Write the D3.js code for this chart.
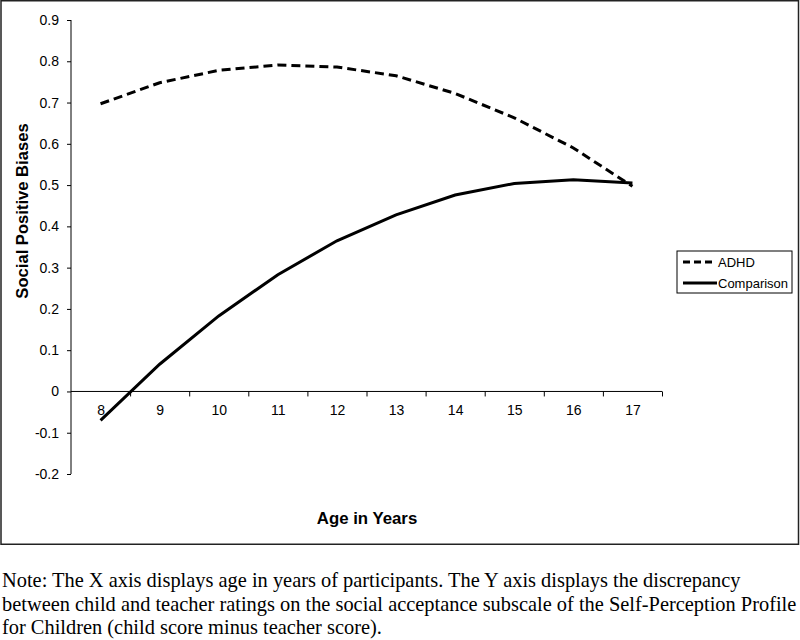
<!DOCTYPE html>
<html>
<head>
<meta charset="utf-8">
<script src="https://cdn.jsdelivr.net/npm/d3@7"></script>
<style>
  body { margin: 0; background: #fff; }
  text { font-family: "Liberation Sans", Arial, sans-serif; fill: #000; }
  .note { font-family: "Liberation Serif", "Times New Roman", serif; font-size: 20.4px; }
</style>
</head>
<body>
<div id="chart"></div>
<script>
var ages = [8, 9, 10, 11, 12, 13, 14, 15, 16, 17];
var adhd = [0.697, 0.748, 0.778, 0.791, 0.786, 0.765, 0.722, 0.663, 0.590, 0.497];
var comparison = [-0.070, 0.066, 0.183, 0.283, 0.365, 0.428, 0.476, 0.504, 0.513, 0.505];
var yTicks = [-0.2, -0.1, 0, 0.1, 0.2, 0.3, 0.4, 0.5, 0.6, 0.7, 0.8, 0.9];
var noteLines = [
  "Note: The X axis displays age in years of participants. The Y axis displays the discrepancy",
  "between child and teacher ratings on the social acceptance subscale of the Self-Perception Profile",
  "for Children (child score minus teacher score)."
];

var width = 800,
    height = 640;

var svg = d3.select("#chart").append("svg")
  .attr("width", width)
  .attr("height", height);

// outer frame
svg.append("rect")
  .attr("x", 1).attr("y", 0.75)
  .attr("width", 797.5).attr("height", 543.5)
  .attr("fill", "none")
  .attr("stroke", "#222")
  .attr("stroke-width", 1.5);

var x = d3.scaleLinear().domain([7.5, 17.5]).range([71, 662]);
var y = d3.scaleLinear().domain([-0.2, 0.9]).range([474, 20]);

// y axis (plain hyphen for negatives, like the original)
var yAxis = svg.append("g")
  .attr("transform", "translate(71,0)")
  .call(d3.axisLeft(y).tickValues(yTicks).tickSize(4).tickPadding(8)
    .tickFormat(function (d) {
      return d === 0 ? "0" : d3.format(".1f")(d).replace("\u2212", "-");
    }));
yAxis.select(".domain").attr("stroke", "#000").attr("d", "M0," + y(0.9) + "V" + y(-0.2));
yAxis.selectAll("text").attr("font-size", 14).attr("font-family", null);

// x axis on zero line: ticks between categories
var xAxis = svg.append("g")
  .attr("transform", "translate(0," + y(0) + ")")
  .call(d3.axisBottom(x).tickValues(d3.range(8.5, 18, 1)).tickSize(5).tickFormat(""));
xAxis.select(".domain").attr("d", "M71,0H662").attr("stroke", "#000");

var xLabels = svg.append("g")
  .attr("transform", "translate(0," + y(0) + ")")
  .call(d3.axisBottom(x).tickValues(ages).tickSize(0).tickPadding(14));
xLabels.select(".domain").remove();
xLabels.selectAll("text").attr("font-size", 14).attr("font-family", null);

// lines
var line = d3.line()
  .x(function (d) { return x(d.age); })
  .y(function (d) { return y(d.v); });

svg.append("path")
  .datum(ages.map(function (a, i) { return { age: a, v: adhd[i] }; }))
  .attr("d", line)
  .attr("fill", "none")
  .attr("stroke", "#000")
  .attr("stroke-width", 3)
  .attr("stroke-dasharray", "9,5");

svg.append("path")
  .datum(ages.map(function (a, i) { return { age: a, v: comparison[i] }; }))
  .attr("d", line)
  .attr("fill", "none")
  .attr("stroke", "#000")
  .attr("stroke-width", 3);

// axis titles
svg.append("text")
  .attr("x", 367).attr("y", 524)
  .attr("text-anchor", "middle")
  .attr("font-size", 16.8)
  .attr("font-weight", "bold")
  .text("Age in Years");

svg.append("text")
  .attr("transform", "translate(28,211) rotate(-90)")
  .attr("text-anchor", "middle")
  .attr("font-size", 16.6)
  .attr("font-weight", "bold")
  .text("Social Positive Biases");

// legend
var legend = svg.append("g").attr("transform", "translate(677,251)");
legend.append("rect")
  .attr("width", 115).attr("height", 42)
  .attr("fill", "#fff").attr("stroke", "#000").attr("stroke-width", 1);
var items = [{ name: "ADHD", dash: "7,4" }, { name: "Comparison", dash: null }];
items.forEach(function (it, i) {
  var cy = 11 + i * 21;
  legend.append("line")
    .attr("x1", 6).attr("x2", it.dash ? 37 : 40)
    .attr("y1", cy).attr("y2", cy)
    .attr("stroke", "#000").attr("stroke-width", 3)
    .attr("stroke-dasharray", it.dash);
  legend.append("text")
    .attr("x", 41).attr("y", cy + 5)
    .attr("font-size", 13)
    .text(it.name);
});

// note
svg.selectAll(".note")
  .data(noteLines)
  .enter()
  .append("text")
  .attr("class", "note")
  .attr("x", 2)
  .attr("y", function (d, i) { return 587 + i * 23.5; })
  .text(function (d) { return d; });
</script>
</body>
</html>
